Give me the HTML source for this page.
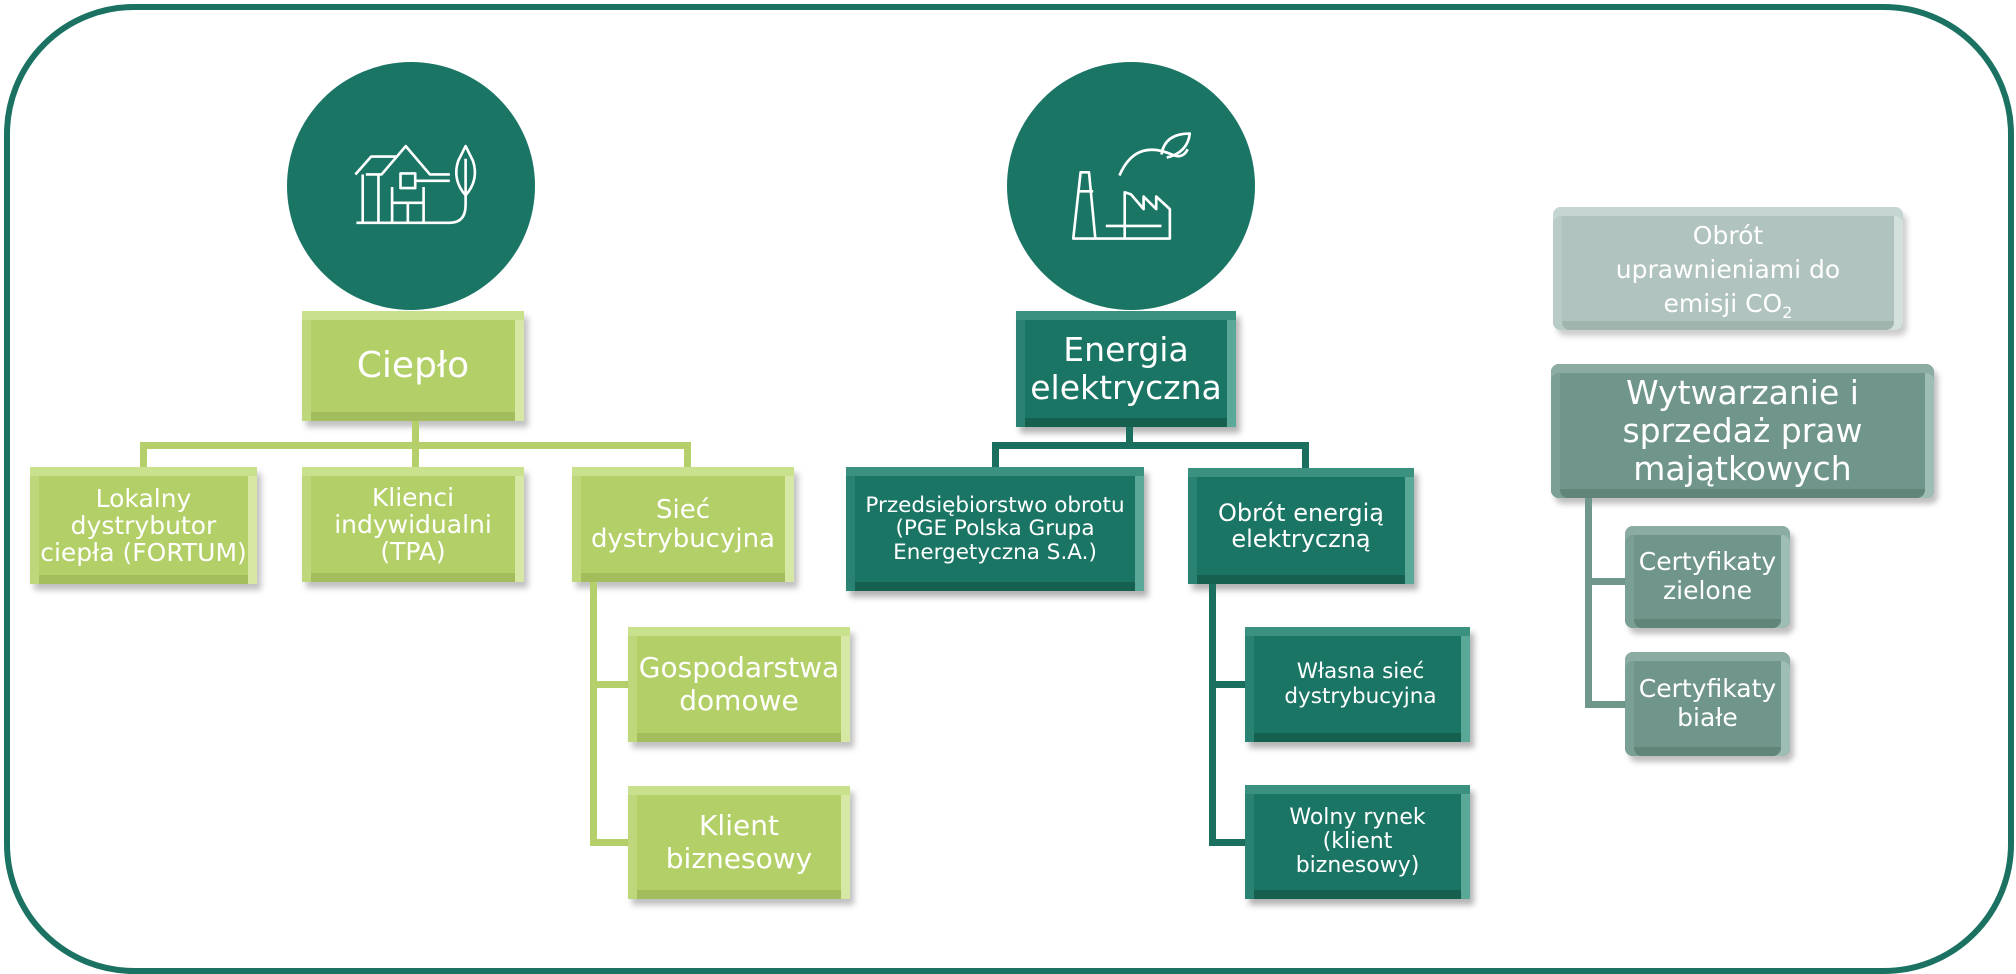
<!DOCTYPE html>
<html><head><meta charset="utf-8"><style>
body{margin:0;width:2016px;height:974px;background:#fff;position:relative;overflow:hidden;font-family:"DejaVu Sans","Liberation Sans",sans-serif;}
.frame{position:absolute;left:4px;top:4px;width:1998px;height:958px;border:6px solid #1b7262;border-radius:130px;}
.b{position:absolute;display:flex;align-items:center;justify-content:center;text-align:center;color:#fff;box-sizing:border-box;line-height:1.15;}
.g{background:#b3cf67;box-shadow:inset 0 9px 0 #c9e08c,inset 9px 0 0 #bdd77a,inset -9px 0 0 #d6e8a3,inset 0 -9px 0 #a3bd5c,4px 6px 6px rgba(0,0,0,.25);}
.t{background:#1b7565;box-shadow:inset 0 9px 0 #3b917f,inset 9px 0 0 #2a8372,inset -9px 0 0 #5aa897,inset 0 -9px 0 #15604f,4px 6px 6px rgba(0,0,0,.3);}
.m{background:#70968b;box-shadow:inset 0 9px 0 #8aaca2,inset 9px 0 0 #7a9f95,inset -9px 0 0 #9ebdb4,inset 0 -9px 0 #62857a,4px 6px 6px rgba(0,0,0,.25);border-radius:8px;}
.c{background:#b0c3be;box-shadow:inset 0 9px 0 #c5d5d1,inset 9px 0 0 #b9cbc6,inset -9px 0 0 #d3e0dc,inset 0 -9px 0 #a0b4ae,4px 6px 6px rgba(0,0,0,.2);border-radius:8px;overflow:hidden;}
.l{position:absolute;}
.lg{background:#b5cf6a;}
.lt{background:#1b6f5f;}
.lm{background:#6f978c;}
</style></head><body>
<div class="frame"></div>

<svg style="position:absolute;left:0;top:0" width="2016" height="974">
<circle cx="411" cy="186" r="124" fill="#1b7565"/>
<g transform="translate(411 186) scale(1.05) translate(-383 -196)" stroke="#fff" stroke-width="2.5" fill="none" stroke-linejoin="round">
<path d="M331 231 H420 Q435 231 435 214 V205"/>
<path d="M330 185 L345 168 H370"/><path d="M340 185 H355 L378 158 L401 185 H420"/>
<path d="M337 185 V231 M352 185 V231 M365 197 V231 M395 197 V231 M365 212 H395 M380 212 V231"/>
<rect x="373" y="184" width="14" height="14"/><path d="M387 191 H420"/>
<path d="M435 205 Q422 190 428 172 L435 158 L442 172 Q448 190 435 205 Z M435 170 V205"/>
</g>
<circle cx="1131" cy="186" r="124" fill="#1b7565"/>
<g transform="translate(1131 186) scale(1.05) translate(-1166 -190)" stroke="#fff" stroke-width="2.5" fill="none" stroke-linejoin="round">
<path d="M1111 240 L1118 177 H1126 L1132 240 Z M1116 195 H1130"/>
<path d="M1132 240 H1203 V212 L1190 200 V212 L1178 200 V212 L1166 198 L1160 196 V240 M1142 228 H1195"/>
<path d="M1155 180 Q1170 145 1205 160 Q1215 165 1220 155 M1195 160 Q1198 140 1222 140 Q1220 158 1200 163"/>
</g>
</svg>

<div class="b g" style="left:302px;top:311px;width:222px;height:110px;font-size:36px">Ciepło</div>
<div class="l lg" style="left:412px;top:421px;width:7px;height:27px"></div>
<div class="l lg" style="left:140px;top:442px;width:551px;height:7px"></div>
<div class="l lg" style="left:140px;top:442px;width:7px;height:26px"></div>
<div class="l lg" style="left:412px;top:442px;width:7px;height:26px"></div>
<div class="l lg" style="left:684px;top:442px;width:7px;height:26px"></div>
<div class="b g" style="left:30px;top:467px;width:227px;height:117px;font-size:25px;line-height:1.08">Lokalny<br>dystrybutor<br>ciepła (FORTUM)</div>
<div class="b g" style="left:302px;top:467px;width:222px;height:115px;font-size:25px;line-height:1.08">Klienci<br>indywidualni<br>(TPA)</div>
<div class="b g" style="left:572px;top:467px;width:222px;height:115px;font-size:26px;line-height:1.1">Sieć<br>dystrybucyjna</div>
<div class="l lg" style="left:590px;top:582px;width:7px;height:264px"></div>
<div class="l lg" style="left:590px;top:681px;width:40px;height:7px"></div>
<div class="l lg" style="left:590px;top:839px;width:40px;height:7px"></div>
<div class="b g" style="left:628px;top:627px;width:222px;height:115px;font-size:28px">Gospodarstwa<br>domowe</div>
<div class="b g" style="left:628px;top:786px;width:222px;height:113px;font-size:28px">Klient<br>biznesowy</div>

<div class="b t" style="left:1016px;top:311px;width:220px;height:116px;font-size:33px">Energia<br>elektryczna</div>
<div class="l lt" style="left:1126px;top:427px;width:7px;height:22px"></div>
<div class="l lt" style="left:992px;top:442px;width:317px;height:7px"></div>
<div class="l lt" style="left:992px;top:442px;width:7px;height:26px"></div>
<div class="l lt" style="left:1302px;top:442px;width:7px;height:26px"></div>
<div class="b t" style="left:846px;top:467px;width:298px;height:124px;font-size:21.5px;line-height:1.08">Przedsiębiorstwo obrotu<br>(PGE Polska Grupa<br>Energetyczna S.A.)</div>
<div class="b t" style="left:1188px;top:468px;width:226px;height:116px;font-size:24px;line-height:1.1">Obrót energią<br>elektryczną</div>
<div class="l lt" style="left:1209px;top:584px;width:7px;height:262px"></div>
<div class="l lt" style="left:1209px;top:681px;width:40px;height:7px"></div>
<div class="l lt" style="left:1209px;top:839px;width:40px;height:7px"></div>
<div class="b t" style="left:1245px;top:627px;width:225px;height:115px;font-size:21.5px;padding-left:6px">Własna sieć<br>dystrybucyjna</div>
<div class="b t" style="left:1245px;top:785px;width:225px;height:114px;font-size:22px;line-height:1.08">Wolny rynek<br>(klient<br>biznesowy)</div>

<div class="b c" style="left:1553px;top:207px;width:350px;height:123px;font-size:25px;line-height:1.35"><div style="margin-top:6px">Obrót<br>uprawnieniami do<br>emisji CO<sub style="font-size:16px">2</sub></div></div>
<div class="b m" style="left:1551px;top:364px;width:383px;height:134px;font-size:33px;line-height:1.15">Wytwarzanie i<br>sprzedaż praw<br>majątkowych</div>
<div class="l lm" style="left:1585px;top:498px;width:7px;height:210px"></div>
<div class="l lm" style="left:1585px;top:578px;width:42px;height:7px"></div>
<div class="l lm" style="left:1585px;top:701px;width:42px;height:7px"></div>
<div class="b m" style="left:1625px;top:526px;width:165px;height:102px;font-size:25px">Certyfikaty<br>zielone</div>
<div class="b m" style="left:1625px;top:652px;width:165px;height:104px;font-size:25px">Certyfikaty<br>białe</div>
</body></html>
